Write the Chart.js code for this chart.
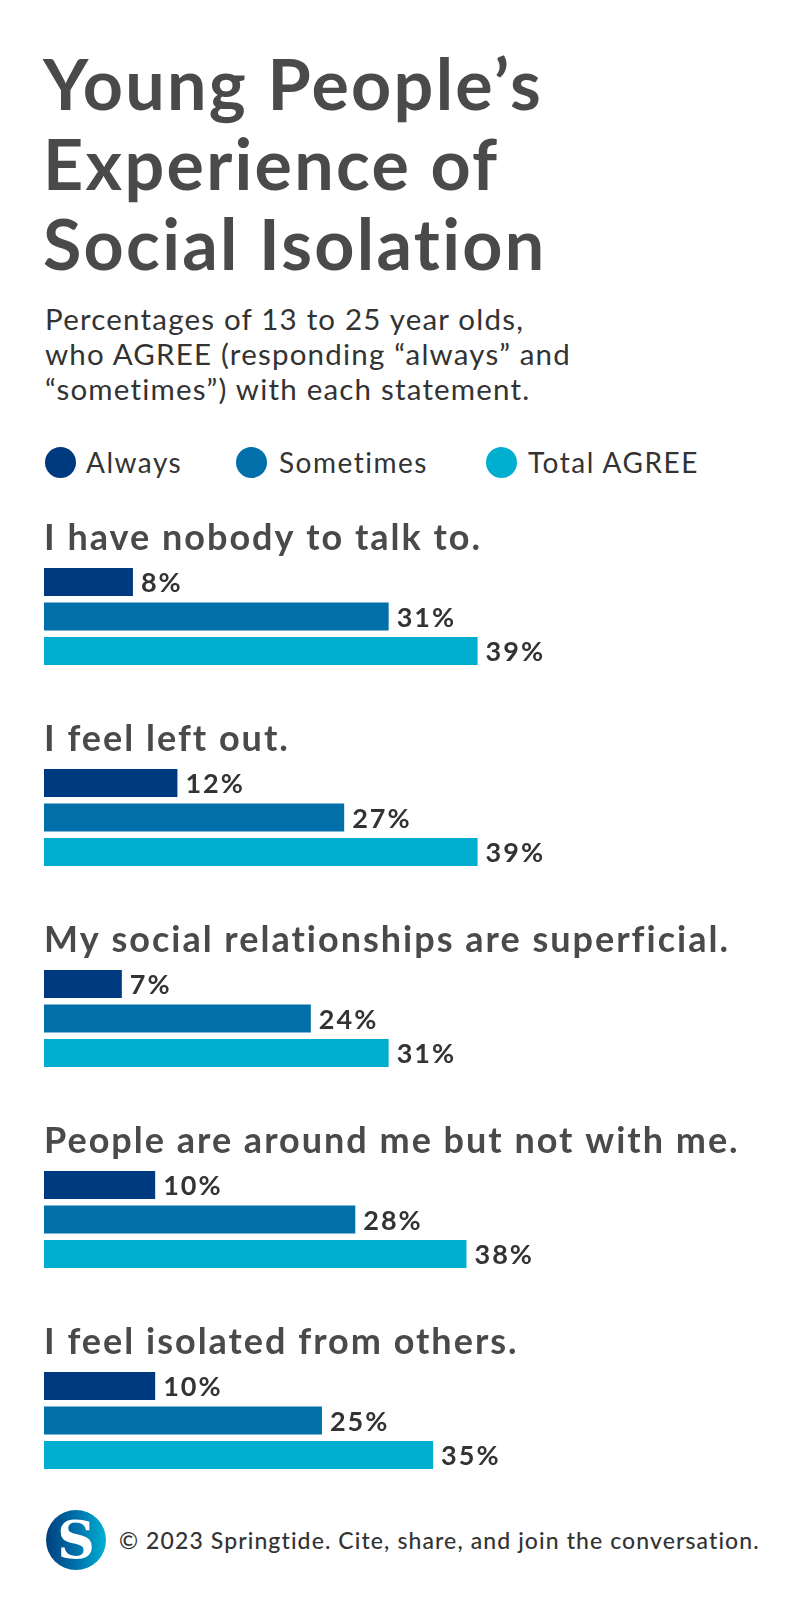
<!DOCTYPE html>
<html>
<head>
<meta charset="utf-8">
<script src="https://cdn.jsdelivr.net/npm/chart.js@4.4.0/dist/chart.umd.min.js"></script>
<style>
  html, body { margin: 0; padding: 0; background: #fff; }
  body { width: 800px; height: 1600px; position: relative; overflow: hidden; font-family: Lato, "Open Sans", sans-serif; }
  .title { position: absolute; left: 43px; top: 43px; color: #4a4a4a; font-weight: 700; font-size: 70px; line-height: 80px; letter-spacing: 2.3px; white-space: nowrap; }
  .sub { position: absolute; left: 45px; top: 301px; color: #333; font-size: 29.5px; line-height: 35px; letter-spacing: 1.2px; white-space: nowrap; }
  .legend { position: absolute; top: 446px; left: 0; height: 34px; width: 800px; font-size: 28px; color: #333; letter-spacing: 1.5px; }
  .legend .dot { position: absolute; top: 1px; width: 31px; height: 31px; border-radius: 50%; }
  .legend .lbl { position: absolute; top: 0; white-space: nowrap; line-height: 32px; }
  #wrap { position: absolute; left: 0; top: 516px; width: 800px; height: 1005px; }
  .footer { position: absolute; left: 119px; top: 1525px; font-size: 23px; color: #333; white-space: nowrap; line-height: 30px; letter-spacing: 1.1px; font-weight: 500; }
  .logo { position: absolute; left: 46px; top: 1510px; width: 60px; height: 60px; border-radius: 50%;
          background: linear-gradient(90deg, #00407f 0%, #0070aa 50%, #00b1d2 100%);
          color: #fff; font-family: "DejaVu Serif", "Liberation Serif", serif; font-weight: 700; font-size: 52px;
          line-height: 60px; text-align: center; }
</style>
</head>
<body>
<div class="title">Young People’s<br>Experience of<br>Social Isolation</div>
<div class="sub">Percentages of 13 to 25 year olds,<br>who AGREE (responding “always” and<br>“sometimes”) with each statement.</div>
<div class="legend" id="legend"></div>
<div id="wrap"><canvas id="c"></canvas></div>
<div class="logo">S</div>
<div class="footer">© 2023 Springtide. Cite, share, and join the conversation.</div>
<script>
const categories = [
  "I have nobody to talk to.",
  "I feel left out.",
  "My social relationships are superficial.",
  "People are around me but not with me.",
  "I feel isolated from others."
];
const seriesNames = ["Always", "Sometimes", "Total AGREE"];
const alwaysValues = [8, 12, 7, 10, 10];
const sometimesValues = [31, 27, 24, 28, 25];
const totalValues = [39, 39, 31, 38, 35];
const seriesColors = ["#003a7e", "#006faa", "#00afd0"];

// legend
const legendPos = [{dot: 45, lbl: 86}, {dot: 236, lbl: 279}, {dot: 486, lbl: 528}];
const legendEl = document.getElementById('legend');
seriesNames.forEach((n, i) => {
  const d = document.createElement('div');
  d.className = 'dot';
  d.style.left = legendPos[i].dot + 'px';
  d.style.background = seriesColors[i];
  legendEl.appendChild(d);
  const l = document.createElement('div');
  l.className = 'lbl';
  l.style.left = legendPos[i].lbl + 'px';
  l.textContent = n;
  legendEl.appendChild(l);
});

const groupTitles = {
  id: 'groupTitles',
  afterDatasetsDraw(chart) {
    const ctx = chart.ctx;
    const y = chart.scales.y;
    ctx.save();
    ctx.fillStyle = '#4a4a4a';
    ctx.font = '700 36px Lato, "Open Sans", sans-serif';
    ctx.letterSpacing = '2px';
    ctx.textBaseline = 'alphabetic';
    ctx.textAlign = 'left';
    chart.data.labels.forEach((lab, i) => {
      ctx.fillText(lab, 44, y.getPixelForValue(i) - 67);
    });
    ctx.restore();
  }
};
const valueLabels = {
  id: 'valueLabels',
  afterDatasetsDraw(chart) {
    const ctx = chart.ctx;
    ctx.save();
    ctx.fillStyle = '#333';
    ctx.font = '700 27px Lato, "Open Sans", sans-serif';
    ctx.letterSpacing = '2px';
    ctx.textBaseline = 'alphabetic';
    ctx.textAlign = 'left';
    chart.data.datasets.forEach((ds, di) => {
      const meta = chart.getDatasetMeta(di);
      meta.data.forEach((bar, i) => {
        ctx.fillText(ds.data[i] + '%', bar.x + 8, bar.y + 10);
      });
    });
    ctx.restore();
  }
};

new Chart(document.getElementById('c'), {
  type: 'bar',
  data: {
    labels: categories,
    datasets: [
      { label: seriesNames[0], data: alwaysValues, backgroundColor: seriesColors[0] },
      { label: seriesNames[1], data: sometimesValues, backgroundColor: seriesColors[1] },
      { label: seriesNames[2], data: totalValues, backgroundColor: seriesColors[2] }
    ]
  },
  options: {
    indexAxis: 'y',
    responsive: true,
    maintainAspectRatio: false,
    animation: false,
    layout: { padding: { left: 44, right: 0, top: 0, bottom: 0 } },
    datasets: { bar: { categoryPercentage: 0.515, barPercentage: 0.81 } },
    scales: {
      x: { display: false, min: 0, max: 68 },
      y: { display: false }
    },
    plugins: { legend: { display: false }, tooltip: { enabled: false } }
  },
  plugins: [groupTitles, valueLabels]
});
</script>
</body>
</html>
